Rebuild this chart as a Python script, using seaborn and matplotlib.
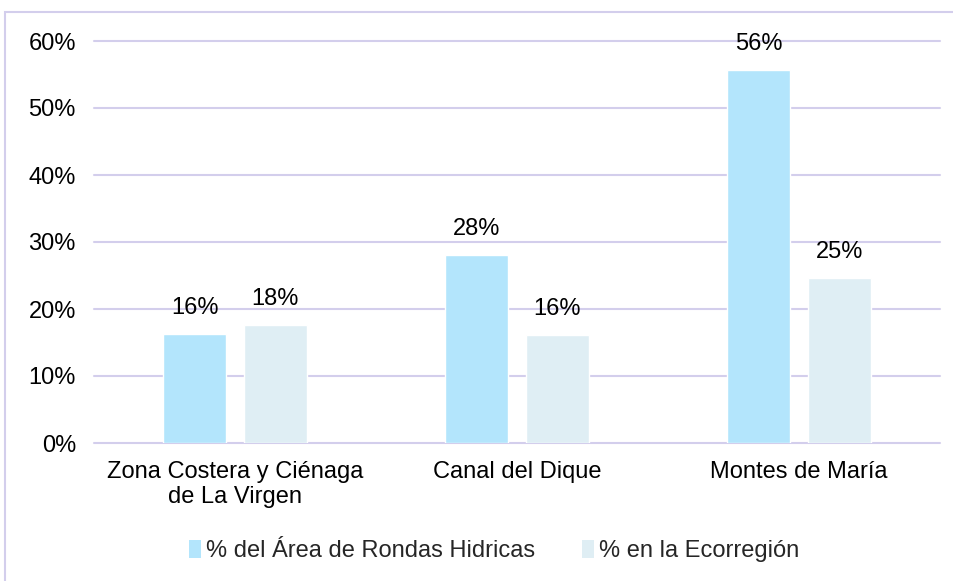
import matplotlib
matplotlib.use("Agg")
import matplotlib.pyplot as plt
import seaborn as sns
import pandas as pd
from matplotlib.patches import Rectangle, Patch
from matplotlib.ticker import FuncFormatter

categories = ["Zona Costera y Ciénaga\nde La Virgen", "Canal del Dique", "Montes de María"]
series_names = ["% del Área de Rondas Hidricas", "% en la Ecorregión"]
rondas = [16.3, 28.0, 55.7]
ecorregion = [17.6, 16.1, 24.6]
yticks = [0, 10, 20, 30, 40, 50, 60]

df = pd.DataFrame({
    "cat": categories * 2,
    "serie": [series_names[0]] * 3 + [series_names[1]] * 3,
    "val": rondas + ecorregion,
})

sns.set_theme(style="white")
plt.rcParams["font.family"] = ["Liberation Sans", "DejaVu Sans"]

colors = ["#B3E5FC", "#DFEEF4"]
grid_c = "#D3CEEC"
fs = 17

fig = plt.figure(figsize=(9.54, 5.81), dpi=100)
ax = fig.add_axes([94 / 954, 1 - 443 / 581, (940 - 94) / 954, (443 - 41) / 581])

sns.barplot(data=df, x="cat", y="val", hue="serie", palette=colors,
            width=0.57, gap=0.22, ax=ax, legend=False, saturation=1)

ax.set_ylim(0, 60)
ax.set_xlim(-0.5, 2.5)
ax.set_yticks(yticks)
ax.yaxis.set_major_formatter(FuncFormatter(lambda v, p: f"{v:.0f}%"))
ax.set_xlabel("")
ax.set_ylabel("")
for s in ax.spines.values():
    s.set_visible(False)
ax.grid(axis="y", color=grid_c, linewidth=1.5)
for gl in ax.get_ygridlines():
    gl.set_clip_on(False)
ax.set_axisbelow(True)
ax.tick_params(axis="both", length=0, labelsize=fs, colors="#000000")
ax.tick_params(axis="y", pad=13)
ax.tick_params(axis="x", pad=13)
for t in ax.get_xticklabels():
    t.set_linespacing(1.15)

for cont in ax.containers:
    ax.bar_label(cont, labels=[f"{b.get_height():.0f}%" for b in cont],
                 padding=11, fontsize=fs, color="#000000")

handles = [Patch(facecolor=c, edgecolor="none") for c in colors]
fig.legend(handles, series_names, loc="center", bbox_to_anchor=(0.518, 1 - 551 / 581),
           ncol=2, frameon=False, fontsize=fs, handlelength=0.5, handleheight=0.8,
           handletextpad=0.2, columnspacing=2.0)

fig.patches.append(Rectangle((5 / 954, -0.1), 1.2, 1 - 12 / 581 + 0.1,
                             transform=fig.transFigure, fill=False,
                             edgecolor=grid_c, linewidth=1.5, zorder=0))

fig.savefig("out.png", dpi=100)
